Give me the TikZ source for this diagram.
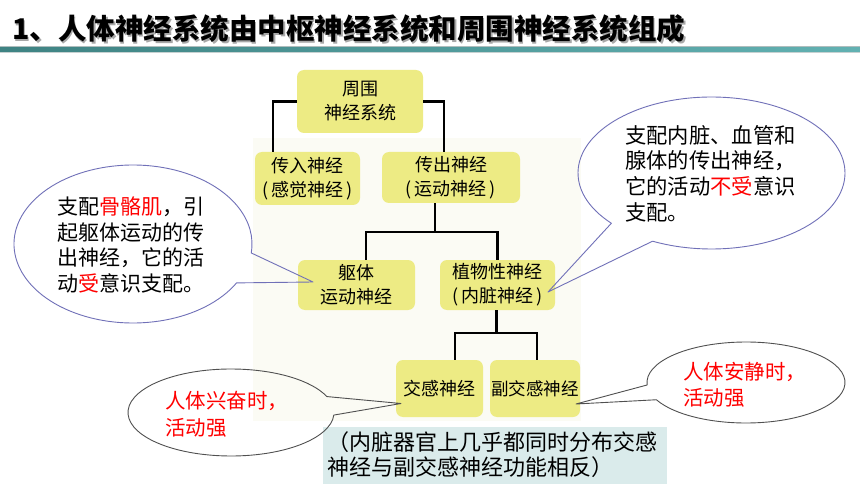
\documentclass[tikz,border=0pt]{standalone}
\usepackage{fontspec}
\setmainfont{Noto Sans CJK SC}
\usetikzlibrary{calc}
\definecolor{boxy}{HTML}{EDEB84}
\definecolor{chartbg}{HTML}{FBFBF4}
\definecolor{notebg}{HTML}{DAEBEB}
\definecolor{calblue}{HTML}{7070B8}
\definecolor{calgray}{HTML}{505050}
\definecolor{barL}{HTML}{3F8383}
\definecolor{barR}{HTML}{62B1B2}
\definecolor{barTop}{HTML}{AFBDBD}
\definecolor{shadowc}{HTML}{A8A8A8}
\newcommand\hl[1]{\textcolor{red}{#1}}
\begin{document}
\begin{tikzpicture}[x=1pt,y=-1pt,
  box/.style={fill=boxy, rounded corners=7pt, inner sep=0pt, align=center, font=\fontsize{18}{24}\selectfont},
  conn/.style={line width=2.6pt, black},
  callb/.style={draw=calblue, line width=0.9pt, line join=round},
  callg/.style={draw=calgray, line width=0.9pt, line join=round},
  ctext/.style={inner sep=0pt, align=left, anchor=west, font=\fontsize{21}{25.5}\selectfont},
  rtext/.style={inner sep=0pt, align=left, anchor=west, text=red, font=\fontsize{20.5}{27}\selectfont}]
\useasboundingbox (0,0) rectangle (860,484);
\fill[white] (0,0) rectangle (860,484);

% title
\node[inner sep=0pt, anchor=west, text=shadowc, font=\fontsize{28.5}{30}\selectfont\bfseries] (titleshadow) at (13.6,30.6) {1、人体神经系统由中枢神经系统和周围神经系统组成};
\node[inner sep=0pt, anchor=west, font=\fontsize{28.5}{30}\selectfont\bfseries] (title) at (12,29) {1、人体神经系统由中枢神经系统和周围神经系统组成};
\fill[barTop] (0,46.3) rectangle (860,47.6);
\shade[left color=barL, right color=barR] (0,47.6) rectangle (860,51.8);
\fill[barTop!70!white] (0,51.8) rectangle (860,52.6);

% chart background
\fill[chartbg] (253,138) rectangle (581,421);

% boxes
\node[box, minimum width=126pt, minimum height=63pt] (root) at (360,101.5) {周围\\神经系统};
\node[box, minimum width=105pt, minimum height=53pt] (aff) at (307.5,178.5) {传入神经\\(\,感觉神经\,)};
\node[box, minimum width=138pt, minimum height=51pt] (eff) at (451,177.5) {传出神经\\(\,运动神经\,)};
\node[box, minimum width=117pt, minimum height=50pt] (som) at (356.5,285) {躯体\\运动神经};
\node[box, minimum width=115pt, minimum height=50pt] (veg) at (497.5,285) {植物性神经\\(\,内脏神经\,)};
\node[box, minimum width=87pt, minimum height=57pt] (sym) at (439.5,388.5) {交感神经};
\node[box, minimum width=90pt, minimum height=57pt, font=\fontsize{17.5}{22}\selectfont] (para) at (535,388.5) {副交感神经};

% connectors
\draw[conn] (root.west) -| ($(aff.north)+(-34.5,0)$);
\draw[conn] (root.east) -| ($(eff.north)+(-7,0)$);
\draw[conn] ($(eff.south)+(-16,0)$) -- ++(0,29);
\draw[conn] ($(som.north)+(9.5,0)$) |- ($(veg.north)+(0,-28)$) -- (veg.north);
\draw[conn] ($(veg.south)+(-1,0)$) -- ++(0,23);
\draw[conn] ($(sym.north)+(15.5,0)$) |- ($(para.north)+(2,-27)$) -- ($(para.north)+(2,0)$);

% note box
\node[fill=notebg, minimum width=344pt, minimum height=57pt, inner sep=0pt] (note) at (495,455.5) {};
\node[inner sep=0pt, align=left, anchor=west, font=\fontsize{22}{25}\selectfont] (notetext) at (327,454.5) {（内脏器官上几乎都同时分布交感\\神经与副交感神经功能相反）};

% callouts
\draw[callb] ($(133,244)+(6.5:119 and 79)$) -- (313,282) -- ($(133,244)+(29.5:119 and 79)$) arc[start angle=29.5, end angle=366.5, x radius=119, y radius=79] -- cycle;
\draw[callb] ($(711.5,173)+(116.2:133.5 and 76)$) -- (548,292) -- ($(711.5,173)+(138.6:133.5 and 76)$) arc[start angle=138.6, end angle=476.2, x radius=133.5, y radius=76] -- cycle;
\draw[callg] ($(231,412.5)+(-21.5:103 and 43.5)$) -- (401,403.5) -- ($(231,412.5)+(3.4:103 and 43.5)$) arc[start angle=3.4, end angle=338.5, x radius=103, y radius=43.5] -- cycle;
\draw[callg] ($(746,382.5)+(154.8:99 and 40.5)$) -- (576,404) -- ($(746,382.5)+(176.5:99 and 40.5)$) arc[start angle=176.5, end angle=514.8, x radius=99, y radius=40.5] -- cycle;

% callout texts
\node[ctext] (lt) at (57,245) {支配\hl{骨骼肌}，引\\起躯体运动的传\\出神经，它的活\\动\hl{受}意识支配。};
\node[ctext, font=\fontsize{21.3}{25.7}\selectfont] (rt) at (625,173.5) {支配内脏、血管和\\腺体的传出神经，\\它的活动\hl{不受}意识\\支配。};
\node[rtext] (blt) at (165,414) {人体兴奋时，\\活动强};
\node[rtext, font=\fontsize{20.5}{25.5}\selectfont] (brt) at (683,385) {人体安静时，\\活动强};
\end{tikzpicture}
\end{document}
